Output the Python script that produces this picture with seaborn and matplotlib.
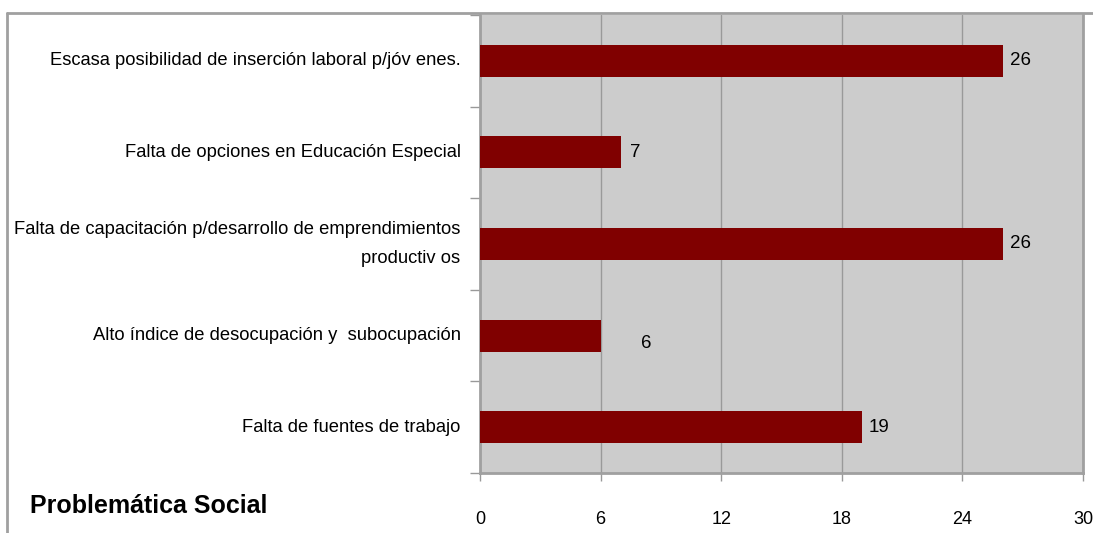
import matplotlib
matplotlib.use("Agg")
import matplotlib.pyplot as plt
import seaborn as sns
import pandas as pd
from matplotlib.lines import Line2D

# data (top to bottom as drawn)
categorias = [
    "Escasa posibilidad de inserción laboral p/jóv enes.",
    "Falta de opciones en Educación Especial",
    "Falta de capacitación p/desarrollo de emprendimientos\nproductiv os",
    "Alto índice de desocupación y  subocupación",
    "Falta de fuentes de trabajo",
]
valores = [26, 7, 26, 6, 19]
x_ticks = [0, 6, 12, 18, 24, 30]
titulo = "Problemática Social"

df = pd.DataFrame({"categoria": categorias, "valor": valores})

sns.set_style("white")
plt.rcParams["font.family"] = ["Liberation Sans", "DejaVu Sans"]

fig = plt.figure(figsize=(10.93, 5.33), dpi=100)
ax = fig.add_axes([480 / 1093, 1 - 473 / 533, 603 / 1093, 458 / 533])
ax.set_facecolor("#cccccc")

sns.barplot(data=df, x="valor", y="categoria", orient="h", color="#800000",
            width=0.35, saturation=1, linewidth=0, ax=ax, zorder=3)

ax.set_xlim(0, 30)
ax.set_ylim(len(categorias) - 0.5, -0.5)
ax.set_xticks(x_ticks)
ax.set_xticklabels([str(t) for t in x_ticks], fontsize=13, color="black")
ax.set_xlabel("")
ax.set_ylabel("")

# category labels at bar centres, separator ticks at band edges
ax.set_yticks(range(len(categorias)))
ax.set_yticklabels(categorias, fontsize=13.2, linespacing=1.95, ha="right",
                   va="center", multialignment="right", color="black")
ax.set_yticks([i - 0.5 for i in range(len(categorias) + 1)], minor=True)
ax.tick_params(axis="y", which="major", length=0, pad=14)
ax.tick_params(axis="y", which="minor", length=7, color="#999999", width=1, left=True)
ax.tick_params(axis="x", length=6, color="#999999", width=1, pad=21, bottom=True)

ax.grid(axis="x", color="#999999", linewidth=1, zorder=1)
ax.set_axisbelow(True)

for side in ["left", "bottom", "right"]:
    ax.spines[side].set_visible(True)
    ax.spines[side].set_color("#a0a0a0")
    ax.spines[side].set_linewidth(2)
ax.spines["top"].set_visible(False)

# value labels
offsets = [(5, 0), (7, 0), (5, 0), (29, -6), (5, 0)]
for i, (v, off) in enumerate(zip(valores, offsets)):
    ax.annotate(str(v), xy=(v, i), xytext=off, textcoords="offset points",
                ha="left", va="center", fontsize=13.5, color="black")

# outer chart frame (top and left edges)
fig.add_artist(Line2D([7 / 1093, 1], [1 - 13 / 533, 1 - 13 / 533],
                      color="#a0a0a0", linewidth=2, transform=fig.transFigure))
fig.add_artist(Line2D([7 / 1093, 7 / 1093], [0, 1 - 13 / 533],
                      color="#a0a0a0", linewidth=2, transform=fig.transFigure))

fig.text(30 / 1093, 1 - 506 / 533, titulo, fontsize=18, fontweight="bold",
         ha="left", va="center", color="black")

fig.savefig("out.png", dpi=100)
